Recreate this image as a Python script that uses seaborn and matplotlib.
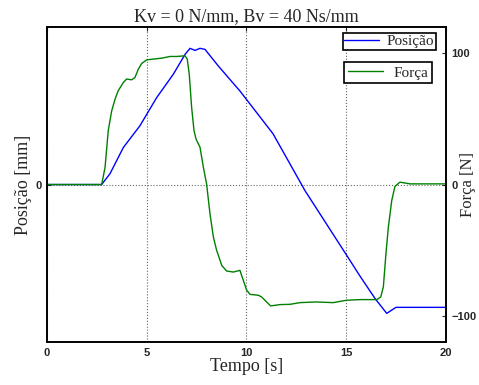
import numpy as np
import pandas as pd
import seaborn as sns
import matplotlib.pyplot as plt

# posicao (mm)
t_pos = [0, 2.74, 3.16, 3.83, 4.66, 5.5, 6.33, 6.92, 7.17, 7.42, 7.67, 7.92,
         8.59, 9.67, 11.33, 12.93, 15.02, 15.69, 16.44, 17.03, 17.49, 20]
pos = [0, 0, 0.83, 2.83, 4.48, 6.63, 8.40, 9.92, 10.38, 10.22, 10.38, 10.30,
       9.03, 7.13, 3.87, -0.46, -5.39, -6.98, -8.68, -9.82, -9.36, -9.36]

# forca (N)
t_forca = [0, 2.74, 2.91, 3.07, 3.24, 3.41, 3.57, 3.83, 3.99, 4.24, 4.41,
           4.58, 4.75, 5.0, 5.33, 5.75, 6.17, 6.5, 6.92, 7.03, 7.13, 7.25,
           7.37, 7.47, 7.67, 7.84, 8.0, 8.17, 8.34, 8.5, 8.76, 9.0, 9.34,
           9.67, 9.84, 10.01, 10.18, 10.6, 10.76, 11.01, 11.21, 11.68, 12.18,
           12.68, 13.5, 14.35, 15.0, 15.7, 16.19, 16.53, 16.73, 16.86, 16.99,
           17.11, 17.28, 17.44, 17.69, 18.2, 20]
forca = [0, 0, 13, 41, 56, 65, 71.5, 77.8, 80.4, 79.8, 81.6,
         88, 92.3, 95, 95.6, 96.3, 97.6, 97.6, 98.1, 95.6, 84.2, 58.8,
         41, 34.7, 28.4, 13, 0.5, -22.3, -40, -50, -61.6, -65.9, -66.7,
         -65.4, -73, -80.6, -83.7, -84.4, -85.7, -89.5, -92.5, -91.5, -91.3,
         -90, -89.5, -90, -88.2, -87.7, -87.7, -87.7, -85.7, -78, -52.7,
         -32.5, -12.2, -1.5, 1.8, 0.5, 0.5]

df_pos = pd.DataFrame({"t": t_pos, "pos": pos})
df_f = pd.DataFrame({"t": t_forca, "f": forca})

sns.set_style("white")
plt.rcParams['font.family'] = ['Liberation Serif', 'DejaVu Serif']

fig = plt.figure(figsize=(4.79, 3.85), dpi=100)
ax = fig.add_axes([0.0981, 0.1117, 0.833, 0.818])
ax2 = ax.twinx()

sns.lineplot(data=df_pos, x="t", y="pos", ax=ax, color=(0, 0, 1), lw=1, label="Posição")
sns.lineplot(data=df_f, x="t", y="f", ax=ax2, color=(0, 0.5, 0), lw=1, label="Força")

ax.set_xlim(0, 20)
ax.set_ylim(-12, 12)
ax2.set_ylim(-120, 120)
ax.set_xticks([0, 5, 10, 15, 20])
ax.set_yticks([0])
ax2.set_yticks([-100, 0, 100])
ax2.set_yticklabels(["\u2212100", "0", "100"])

ax.grid(True, linestyle=":", color="0.4", lw=0.8)
ax2.grid(False)

for a in (ax, ax2):
    a.tick_params(direction="in", length=3, width=0.8, labelsize=8, pad=4)
    for lab in a.get_xticklabels() + a.get_yticklabels():
        lab.set_fontfamily("Liberation Sans")
        lab.set_fontweight("bold")
    for s in a.spines.values():
        s.set_color("black")
        s.set_linewidth(1.2)
ax.tick_params(top=True)

ax.set_xlabel("Tempo [s]", fontsize=13, labelpad=0)
ax.set_ylabel("Posição [mm]", fontsize=13, labelpad=2)
ax2.set_ylabel("Força [N]", fontsize=12, rotation=90)
ax2.yaxis.set_label_coords(1.034, 0.5)
ax.set_title("Kv = 0 N/mm, Bv = 40 Ns/mm", fontsize=13, pad=4)

l1 = ax.legend(loc="upper right", bbox_to_anchor=(0.975, 0.981), fontsize=11,
               fancybox=False, framealpha=1, edgecolor="black", handlelength=2.3,
               borderpad=0.1, borderaxespad=0, handletextpad=0.5)
l2 = ax2.legend(loc="upper right", bbox_to_anchor=(0.965, 0.889), fontsize=11,
                fancybox=False, framealpha=1, edgecolor="black", handlelength=2.3,
                borderpad=0.25, borderaxespad=0, handletextpad=0.7)
for l in (l1, l2):
    l.get_frame().set_linewidth(1.2)

fig.savefig("out.png", dpi=100)
